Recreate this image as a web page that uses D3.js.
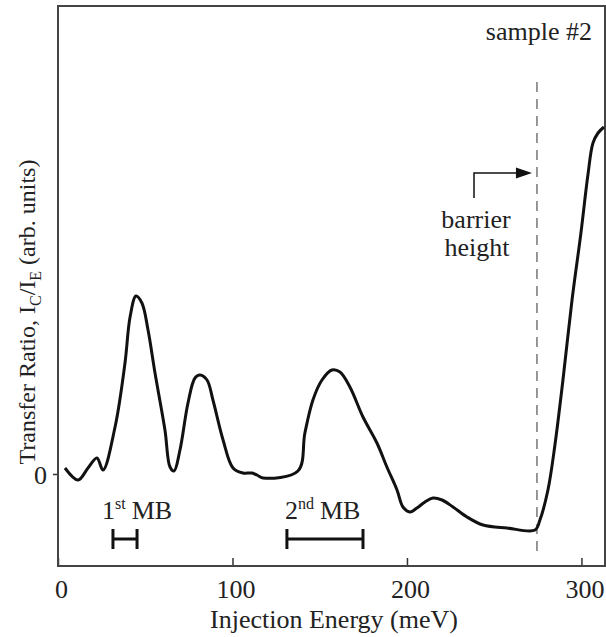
<!DOCTYPE html>
<html lang="en">
<head>
<meta charset="UTF-8">
<title>Transfer ratio vs injection energy</title>
<script src="https://d3js.org/d3.v7.min.js"></script>
<style>
  body { margin: 0; background: #fff; }
  svg text { font-family: "Liberation Serif", "Times New Roman", serif; fill: #222; }
</style>
</head>
<body>
<script>
// data (energy in meV, ratio in arb. units)
const energy = [4.0, 11.5, 17.2, 22.3, 25.8, 32.7, 38.4, 41.3, 44.7, 48.1, 51.6, 55.6, 61.3, 64.2, 66.5,
  69.9, 74.5, 78.5, 81.4, 85.4, 88.8, 94.6, 100.3, 106.0, 111.2, 114.0, 117.5, 137.5, 141.5, 146.1,
  151.3, 157.0, 161.6, 167.3, 174.8, 182.8, 188.5, 194.3, 197.7, 201.7, 205.7, 210.3, 214.9, 220.1,
  226.4, 234.4, 243.6, 257.3, 273.4, 276.2, 280.8, 284.8, 289.4, 294.6, 299.7, 303.7, 306.6, 309.5, 312.9];
const ratio = [0.06, -0.06, 0.06, 0.16, 0.04, 0.47, 1.11, 1.57, 1.78, 1.71, 1.44, 1.01, 0.44, 0.07, 0.03,
  0.24, 0.71, 0.96, 0.99, 0.94, 0.74, 0.34, 0.06, 0.01, 0.01, -0.01, -0.04, 0.03, 0.41, 0.74,
  0.94, 1.04, 1.02, 0.87, 0.57, 0.31, 0.07, -0.16, -0.33, -0.38, -0.34, -0.28, -0.24, -0.26,
  -0.33, -0.43, -0.51, -0.54, -0.56, -0.46, -0.16, 0.29, 0.94, 1.74, 2.41, 2.99, 3.31, 3.41, 3.47];

const xTicks = [0, 100, 200, 300];
const yTicks = [0];

// miniband widths
const mbOrder = ['1', '2'];
const mbSuffix = ['st', 'nd'];
const mbStart = [31.5, 131.2];
const mbEnd = [45.3, 174.8];
const mbLevel = -0.65;

const barrierEnergy = 274.5;

const width = 606, height = 637;
const margin = { top: 6, right: 1, bottom: 71, left: 58 };
const fs = '26px';

const svg = d3.select('body').append('svg')
  .attr('width', width)
  .attr('height', height);

const x = d3.scaleLinear()
  .domain([0, 313.5])
  .range([margin.left, width - margin.right]);

const y = d3.scaleLinear()
  .domain([-0.92, 4.68])
  .range([height - margin.bottom, margin.top]);

// clip so the curve stops at the frame
svg.append('clipPath').attr('id', 'plot')
  .append('rect')
  .attr('x', margin.left).attr('y', margin.top)
  .attr('width', width - margin.left - margin.right)
  .attr('height', height - margin.top - margin.bottom);

// bottom axis, ticks pointing into the plot
const xAxis = svg.append('g')
  .attr('transform', `translate(0,${height - margin.bottom})`)
  .call(d3.axisBottom(x).tickValues(xTicks).tickSize(-8).tickPadding(12).tickFormat(d3.format('d')));
xAxis.select('.domain').remove();
xAxis.selectAll('line').attr('stroke', '#333').attr('stroke-width', 1.5);
xAxis.selectAll('text')
  .attr('dx', 3)
  .attr('dy', 20)
  .style('font-size', fs);

const yAxis = svg.append('g')
  .attr('transform', `translate(${margin.left},0)`)
  .call(d3.axisLeft(y).tickValues(yTicks).tickSize(5).tickPadding(6).tickFormat(d3.format('d')));
yAxis.select('.domain').remove();
yAxis.selectAll('line').attr('stroke', '#333').attr('stroke-width', 1.5);
yAxis.selectAll('text')
  .attr('dy', '0.35em')
  .style('font-size', fs);

// frame
svg.append('rect')
  .attr('x', margin.left)
  .attr('y', margin.top)
  .attr('width', width - margin.left - margin.right)
  .attr('height', height - margin.top - margin.bottom)
  .attr('fill', 'none')
  .attr('stroke', '#444')
  .attr('stroke-width', 2);

// barrier height marker
svg.append('line')
  .attr('x1', x(barrierEnergy)).attr('x2', x(barrierEnergy))
  .attr('y1', 82).attr('y2', 557)
  .attr('stroke', '#777')
  .attr('stroke-width', 1.5)
  .attr('stroke-dasharray', '10,7');

// curve
const points = energy.map((e, i) => [e, ratio[i]]);
const line = d3.line()
  .x(d => x(d[0]))
  .y(d => y(d[1]))
  .curve(d3.curveCatmullRom.alpha(0.5));

svg.append('path')
  .datum(points)
  .attr('clip-path', 'url(#plot)')
  .attr('d', line)
  .attr('fill', 'none')
  .attr('stroke', '#111')
  .attr('stroke-width', 3)
  .attr('stroke-linejoin', 'round');

// miniband bars
mbOrder.forEach((n, i) => {
  const g = svg.append('g').attr('stroke', '#111').attr('stroke-width', 3);
  const yy = y(mbLevel);
  g.append('line').attr('x1', x(mbStart[i])).attr('x2', x(mbEnd[i])).attr('y1', yy).attr('y2', yy);
  g.append('line').attr('x1', x(mbStart[i])).attr('x2', x(mbStart[i])).attr('y1', yy - 10).attr('y2', yy + 10);
  g.append('line').attr('x1', x(mbEnd[i])).attr('x2', x(mbEnd[i])).attr('y1', yy - 10).attr('y2', yy + 10);

  const t = svg.append('text')
    .attr('x', x(mbStart[i]) - (i === 0 ? 11 : 2))
    .attr('y', 519)
    .style('font-size', fs);
  t.append('tspan').text(n);
  t.append('tspan').attr('dy', -10).style('font-size', '16px').text(mbSuffix[i]);
  t.append('tspan').attr('dy', 10).attr('dx', 6).text('MB');
});

// annotations
svg.append('text')
  .attr('x', 592).attr('y', 40)
  .attr('text-anchor', 'end')
  .style('font-size', fs)
  .text('sample #2');

const tipX = x(barrierEnergy) - 5;
svg.append('path')
  .attr('d', `M474,198 V173 H${tipX - 14}`)
  .attr('fill', 'none')
  .attr('stroke', '#111')
  .attr('stroke-width', 1.5);
svg.append('path')
  .attr('d', `M${tipX},173 L${tipX - 16},167.5 L${tipX - 16},178.5 Z`)
  .attr('fill', '#111');

svg.append('text')
  .attr('x', 476).attr('y', 228)
  .attr('text-anchor', 'middle')
  .style('font-size', fs)
  .text('barrier');
svg.append('text')
  .attr('x', 477).attr('y', 256)
  .attr('text-anchor', 'middle')
  .style('font-size', fs)
  .text('height');

// axis titles
svg.append('text')
  .attr('x', 334).attr('y', 628)
  .attr('text-anchor', 'middle')
  .style('font-size', fs)
  .text('Injection Energy (meV)');

const yTitle = svg.append('text')
  .attr('transform', 'translate(35,312) rotate(-90)')
  .attr('text-anchor', 'middle')
  .style('font-size', '24px');
yTitle.append('tspan').text('Transfer Ratio, I');
yTitle.append('tspan').attr('dy', 6).style('font-size', '16px').text('C');
yTitle.append('tspan').attr('dy', -6).text('/I');
yTitle.append('tspan').attr('dy', 6).style('font-size', '16px').text('E');
yTitle.append('tspan').attr('dy', -6).text(' (arb. units)');
</script>
</body>
</html>
